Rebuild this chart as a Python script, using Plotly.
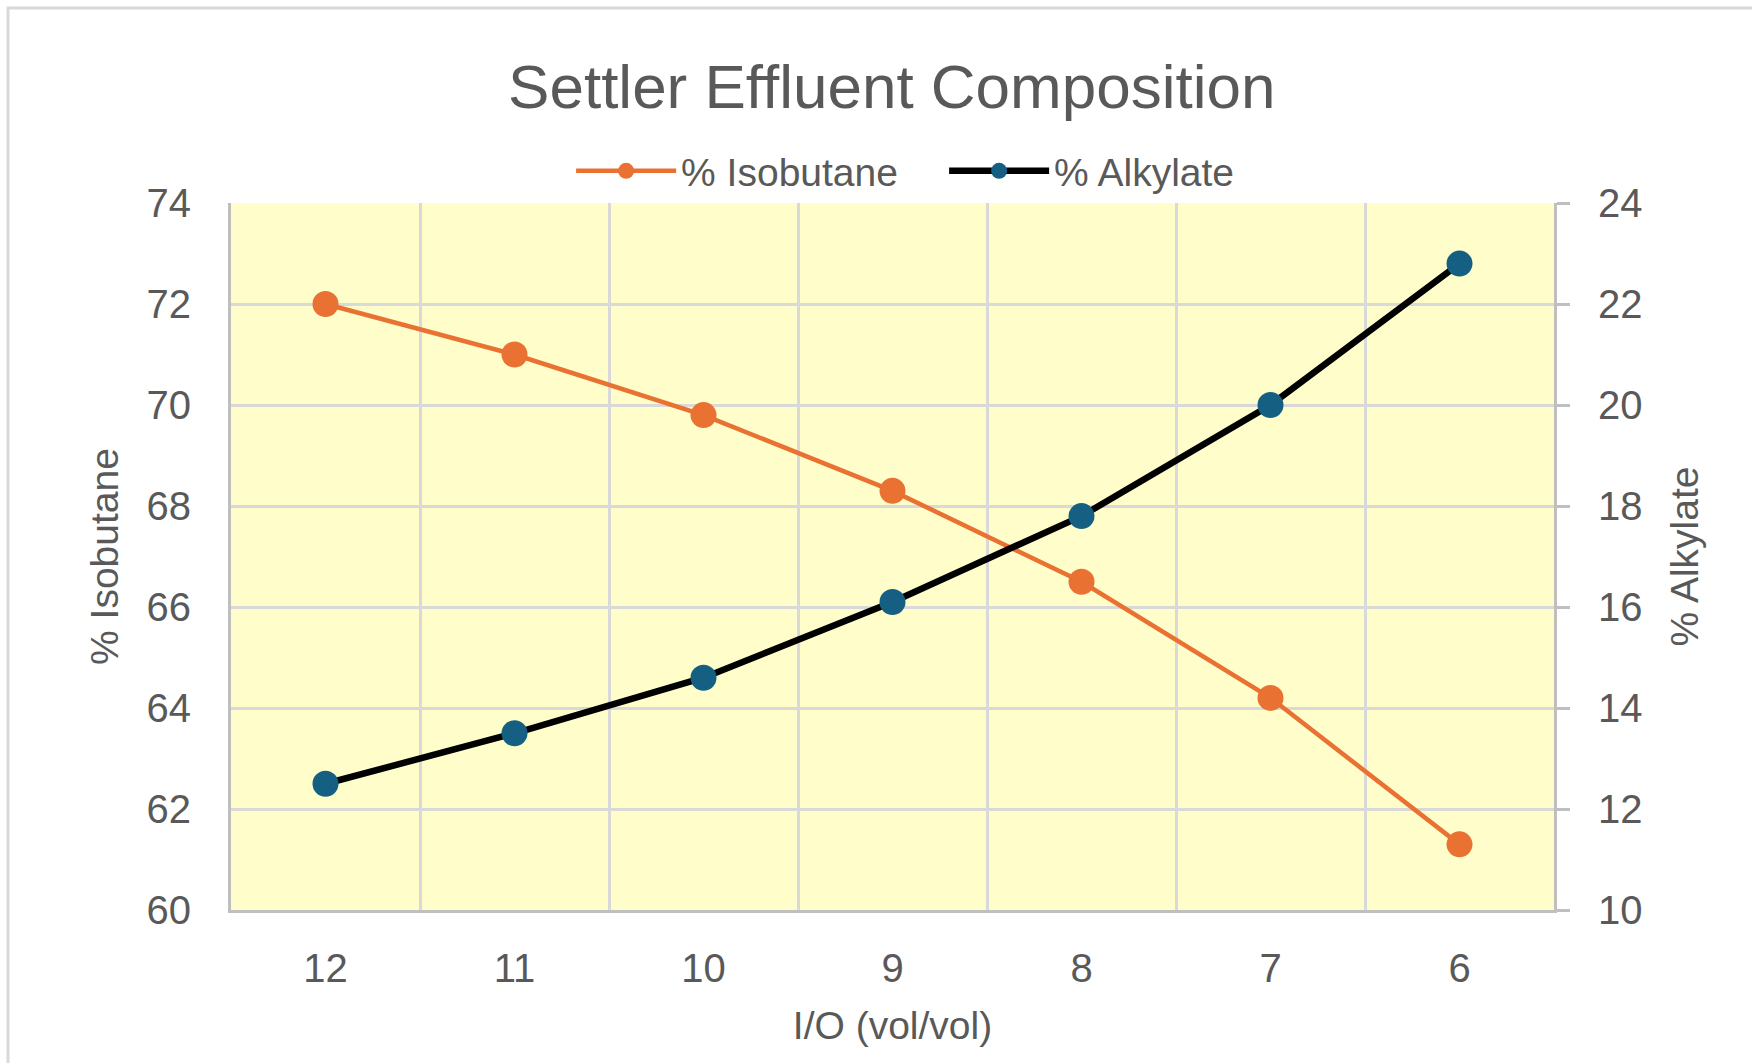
import plotly.graph_objects as go

# ---- data ----
io_ratio = [12, 11, 10, 9, 8, 7, 6]
isobutane = [72.0, 71.0, 69.8, 68.3, 66.5, 64.2, 61.3]
alkylate = [12.5, 13.5, 14.6, 16.1, 17.8, 20.0, 22.8]
x_tick_labels = ["12", "11", "10", "9", "8", "7", "6"]
grid_boundaries = [11.5, 10.5, 9.5, 8.5, 7.5, 6.5]

W, H = 1752, 1063
L, R, T, B = 231, 198, 203, 153

ORANGE = "#E97132"
BLUE = "#156082"
TXT = "#595959"
GRID = "#D9D9D9"
AXIS = "#BFBFBF"
FONT = "Liberation Sans"

fig = go.Figure()
fig.add_trace(go.Scatter(
    x=io_ratio, y=isobutane, name="% Isobutane", mode="lines+markers",
    line=dict(color=ORANGE, width=4.5),
    marker=dict(color=ORANGE, size=26, line=dict(width=0)),
    yaxis="y"))
fig.add_trace(go.Scatter(
    x=io_ratio, y=alkylate, name="% Alkylate", mode="lines+markers",
    line=dict(color="#000000", width=6.5),
    marker=dict(color=BLUE, size=26, line=dict(width=0)),
    yaxis="y2"))

pw = W - L - R
ph = H - T - B

fig.update_layout(
    width=W, height=H,
    margin=dict(l=L, r=R, t=T, b=B, pad=0),
    paper_bgcolor="white",
    plot_bgcolor="#FFFDCA",
    font=dict(family=FONT, color=TXT, size=38),
    title=dict(text="Settler Effluent Composition", x=0.509, xanchor="center",
               y=1 - 86 / H, yanchor="middle",
               font=dict(family=FONT, size=62, color=TXT)),
    showlegend=True,
    legend=dict(orientation="h", x=0.539, xanchor="center",
                y=(H - B - 171) / ph, yanchor="middle",
                font=dict(family=FONT, size=39, color=TXT),
                itemwidth=100, entrywidth=258, bgcolor="rgba(0,0,0,0)",
                itemsizing="trace", tracegroupgap=0),
    xaxis=dict(
        range=[12.5, 5.5], tickvals=io_ratio, ticktext=x_tick_labels,
        showgrid=False, zeroline=False,
        showline=True, linecolor=AXIS, linewidth=3,
        ticks="", ticklabelstandoff=21,
        tickfont=dict(size=40, color=TXT, family=FONT),
        minor=dict(tickvals=grid_boundaries, showgrid=True, gridcolor=GRID,
                   gridwidth=3, ticks=""),
        title=dict(text="I/O (vol/vol)", standoff=23,
                   font=dict(size=39, color=TXT, family=FONT)),
    ),
    yaxis=dict(
        range=[60, 74], dtick=2, tick0=60,
        showgrid=True, gridcolor=GRID, gridwidth=3, zeroline=False,
        showline=True, linecolor=AXIS, linewidth=3,
        ticks="", ticklabelstandoff=29,
        tickfont=dict(size=40, color=TXT, family=FONT),
        title=dict(text="% Isobutane", standoff=16,
                   font=dict(size=39, color=TXT, family=FONT)),
    ),
    yaxis2=dict(
        range=[10, 24], dtick=2, tick0=10, overlaying="y", side="right",
        showgrid=False, zeroline=False,
        showline=True, linecolor=AXIS, linewidth=3,
        ticks="outside", ticklen=13, tickwidth=3, tickcolor=AXIS,
        ticklabelstandoff=20,
        tickfont=dict(size=40, color=TXT, family=FONT),
        title=dict(text="% Alkylate", standoff=30,
                   font=dict(size=39, color=TXT, family=FONT)),
    ),
)

# outer chart border (cropped on right and bottom, as in the reference)
fig.add_shape(type="rect", xref="paper", yref="paper", layer="below",
              x0=(8 - L) / pw, x1=(W + 20 - L) / pw,
              y0=(H - B - (H + 20)) / ph, y1=(H - B - 8) / ph,
              line=dict(color=GRID, width=3), fillcolor="rgba(0,0,0,0)")

fig.write_html("out.html")
